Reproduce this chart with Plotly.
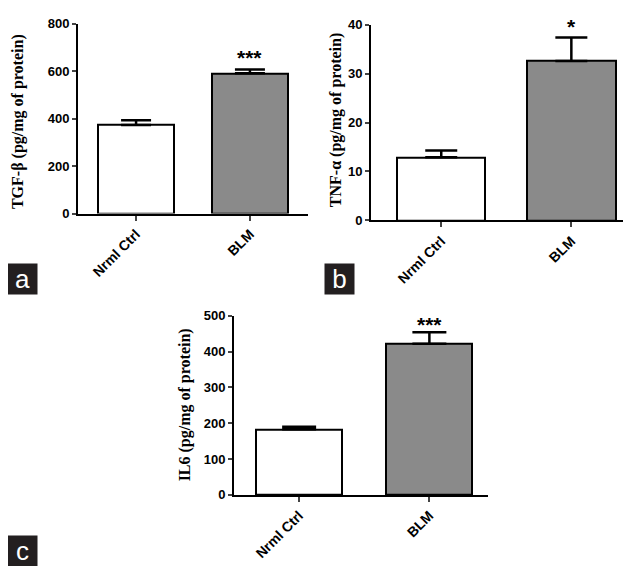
import plotly.graph_objects as go

W, H = 631, 566

groups = ['Nrml Ctrl', 'BLM']

tgf_mean = [373, 591]
tgf_sem = [20, 16]
tnf_mean = [12.9, 32.6]
tnf_sem = [1.4, 4.8]
il6_mean = [183, 422]
il6_sem = [7, 32]

panel_titles = ['TGF-β (pg/mg of protein)', 'TNF-α (pg/mg of protein)', 'IL6 (pg/mg of protein)']
stars = ['***', '*', '***']
yranges = [[0, 800], [0, 40], [0, 500]]
ydticks = [200, 10, 100]
panel_letters = ['a', 'b', 'c']

fills = ['white', '#8a8a8a']


def px_x(p):
    return p / W


def px_y(p):
    return (H - p) / H


# pixel geometry of each panel: x-axis span, y top/bottom, x range
geo = [
    dict(x0=70, x1=300, ytop=9, ybot=204, xr=[-0.51, 1.51], bw=0.67, cap=15, star=44),
    dict(x0=363, x1=631, ytop=10, ybot=211, xr=[-0.54, 1.52], bw=0.68, cap=16, star=12),
    dict(x0=226, x1=480, ytop=309, ybot=493, xr=[-0.5, 1.45], bw=0.66, cap=17, star=318),
]

data = [(tgf_mean, tgf_sem), (tnf_mean, tnf_sem), (il6_mean, il6_sem)]

fig = go.Figure()

for i, (means, sems) in enumerate(data):
    sfx = '' if i == 0 else str(i + 1)
    g = geo[i]
    fig.add_trace(go.Bar(
        x=[0, 1], y=means, width=g['bw'],
        marker=dict(color=fills, line=dict(color='black', width=2)),
        error_y=dict(type='data', array=sems, arrayminus=[0, 0], symmetric=False,
                     color='black', thickness=2.5, width=g['cap']),
        xaxis='x' + sfx, yaxis='y' + sfx, showlegend=False,
    ))
    fig.update_layout(**{
        'xaxis' + sfx: dict(
            domain=[px_x(g['x0']), px_x(g['x1'])], range=g['xr'],
            tickvals=[0, 1], ticktext=['<b>%s</b>' % t for t in groups],
            tickangle=-45, ticks='outside', ticklen=5, tickwidth=2,
            showline=True, linecolor='black', linewidth=2,
            showgrid=False, zeroline=False,
            tickfont=dict(family='Arial, Liberation Sans, sans-serif', size=14, color='black'),
            anchor='y' + sfx, fixedrange=True,
        ),
        'yaxis' + sfx: dict(
            domain=[px_y(g['ybot']), px_y(g['ytop'])], range=yranges[i],
            dtick=ydticks[i], ticks='outside', ticklen=4, tickwidth=2,
            showline=True, linecolor='black', linewidth=2,
            showgrid=False, zeroline=False,
            tickfont=dict(family='Liberation Sans Narrow, Arial Narrow, Arial, sans-serif', size=13, color='black'),
            tickprefix='<b>', ticksuffix='</b>',
            anchor='x' + sfx, fixedrange=True,
        ),
    })
    # significance stars
    fig.add_annotation(x=1, y=px_y(g['star']), xref='x' + sfx, yref='paper',
                       text='<b>%s</b>' % stars[i], showarrow=False,
                       xanchor='center', yanchor='middle',
                       font=dict(family='Arial, Liberation Sans, sans-serif', size=21, color='black'))

# y-axis titles (serif, bold)
title_pos = [(10, 110), (328, 108), (177, 401)]
for t, (tx, ty) in zip(panel_titles, title_pos):
    fig.add_annotation(x=px_x(tx), y=px_y(ty), xref='paper', yref='paper',
                       xanchor='center', yanchor='middle',
                       text='<b>%s</b>' % t, textangle=-90, showarrow=False,
                       font=dict(family='Liberation Serif, Times New Roman, serif', size=16, color='black'))

# panel letters in black boxes
letter_pos = [(14, 271), (331, 271), (14, 551)]
for t, (lx, ly) in zip(panel_letters, letter_pos):
    fig.add_annotation(x=px_x(lx), y=px_y(ly), xref='paper', yref='paper',
                       xanchor='center', yanchor='middle',
                       text=t, showarrow=False, bgcolor='#231f20', width=25, height=26,
                       borderpad=2, font=dict(family='Arial, Liberation Sans, sans-serif', size=26, color='white'))

fig.update_layout(
    width=W, height=H, margin=dict(l=0, r=0, t=0, b=0),
    plot_bgcolor='white', paper_bgcolor='white', bargap=0,
)

fig.write_html("out.html")
